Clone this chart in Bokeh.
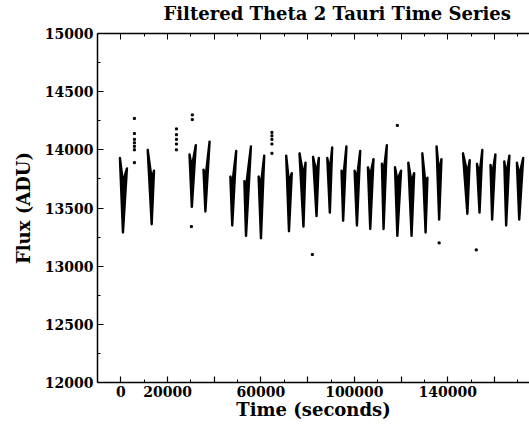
from bokeh.plotting import figure
from bokeh.models import FixedTicker, LinearAxis, Range1d, ColumnDataSource
from bokeh.embed import file_html
from bokeh.resources import INLINE

# Observing segments (each a dense V-shaped streak): start, minimum, end
seg_t_start = [-400, 11500, 29400, 35400, 46900, 52900, 59000, 70800, 76500, 82300,
               88400, 94500, 100100, 105800, 111800, 117400, 123100, 129100, 135200,
               146500, 152500, 158300, 164200, 169600]
seg_t_min = [900, 13200, 30400, 36200, 47700, 53600, 60000, 72000, 78200, 83800,
             89500, 95200, 101100, 106800, 112500, 118400, 124500, 130500, 136300,
             148400, 153600, 159000, 165000, 170600]
seg_t_end = [2600, 14200, 32100, 38000, 49400, 55700, 61400, 73200, 79100, 84800,
             90500, 96600, 102500, 108200, 113900, 120000, 125600, 131300, 137300,
             149400, 154800, 160400, 166400, 172300]
seg_f_start = [13930, 14000, 13960, 13830, 13770, 13730, 13770, 13950, 13970, 13940,
               13930, 13820, 13820, 13850, 13880, 13850, 13890, 13970, 14030,
               13970, 13880, 13870, 13900, 13890]
seg_f_min = [13290, 13360, 13510, 13470, 13350, 13260, 13240, 13300, 13340, 13430,
             13460, 13390, 13350, 13320, 13320, 13260, 13260, 13290, 13400,
             13450, 13460, 13400, 13350, 13400]
seg_f_end = [13840, 13820, 14040, 14070, 13990, 14030, 13950, 13800, 13890, 13930,
             14020, 14030, 13990, 13920, 14040, 13820, 13800, 13760, 13920,
             13910, 14000, 13960, 13950, 13930]
# flux where the two prongs of each streak join
seg_f_notch = [13720, 13750, 13850, 13750, 13700, 13680, 13700, 13720, 13780, 13800,
               13820, 13750, 13750, 13780, 13800, 13740, 13720, 13700, 13800,
               13800, 13790, 13780, 13780, 13780]

# Sparse isolated points
pt_time = [5800, 5800, 5800, 5800, 5800, 5800, 5800,
           23800, 23800, 23800, 23800, 23800,
           30600, 30600, 30200,
           64700, 64700, 64700, 64700, 64700,
           82000, 118400, 136300, 152200]
pt_flux = [14270, 14140, 14090, 14060, 14030, 14000, 13890,
           14180, 14130, 14090, 14050, 14000,
           14300, 14260, 13340,
           14150, 14120, 14090, 14050, 13970,
           13100, 14210, 13200, 13140]

x_major = [0, 20000, 40000, 60000, 80000, 100000, 120000, 140000, 160000]
x_minor = [-10000, 10000, 30000, 50000, 70000, 90000, 110000, 130000, 150000, 170000]
x_labels = {0: "0", 20000: "20000", 40000: "", 60000: "60000", 80000: "",
            100000: "100000", 120000: "", 140000: "140000", 160000: ""}
y_major = [12000, 12500, 13000, 13500, 14000, 14500, 15000]
y_minor = [12250, 12750, 13250, 13750, 14250, 14750]

FONT = "DejaVu Serif"

p = figure(width=529, height=430, output_backend="svg", toolbar_location=None,
           x_range=Range1d(-10000, 175000), y_range=Range1d(12000, 15000),
           x_axis_label="Time (seconds)", y_axis_label="Flux (ADU)",
           title="Filtered Theta 2 Tauri Time Series",
           min_border_left=97, min_border_right=0, min_border_top=32, min_border_bottom=48)
p.grid.visible = False
p.outline_line_color = None
p.background_fill_color = "white"
p.border_fill_color = "white"

p.title.text_font = FONT
p.title.text_font_size = "18px"
p.title.text_font_style = "bold"
p.title.align = "left"
p.title.offset = 66
p.title.standoff = 0
p.title.text_color = "black"

for ax in (p.xaxis[0], p.yaxis[0]):
    ax.major_label_text_font = FONT
    ax.major_label_text_font_size = "14px"
    ax.major_label_text_font_style = "bold"
    ax.major_label_text_color = "black"
    ax.axis_label_text_font = FONT
    ax.axis_label_text_font_size = "18px"
    ax.axis_label_text_font_style = "bold"
    ax.axis_label_text_color = "black"
    ax.axis_line_width = 1.5
    ax.axis_line_color = "black"
    ax.major_tick_in = 6
    ax.major_tick_out = 0
    ax.minor_tick_in = 3
    ax.minor_tick_out = 0
    ax.major_tick_line_width = 1.2
    ax.minor_tick_line_width = 1.0

p.xaxis[0].ticker = FixedTicker(ticks=x_major, minor_ticks=x_minor)
p.xaxis[0].major_label_overrides = x_labels
p.xaxis[0].major_label_standoff = 3
p.xaxis[0].axis_label_standoff = -1
p.yaxis[0].ticker = FixedTicker(ticks=y_major, minor_ticks=y_minor)
p.yaxis[0].major_label_standoff = 4
p.yaxis[0].axis_label_standoff = 8

top = LinearAxis(ticker=FixedTicker(ticks=x_major, minor_ticks=x_minor),
                 major_label_text_font_size="0px", axis_line_width=1.5,
                 major_tick_in=6, major_tick_out=0, minor_tick_in=3, minor_tick_out=0,
                 major_label_standoff=0, axis_label=" ",
                 axis_label_text_font_size="7px", axis_label_standoff=0)
top.major_label_overrides = {t: "" for t in x_major}
p.add_layout(top, "above")

xs = [[a, b, c, b] for a, b, c in zip(seg_t_start, seg_t_min, seg_t_end)]
ys = [[a, b, c, d] for a, b, c, d in zip(seg_f_start, seg_f_min, seg_f_end, seg_f_notch)]
src = ColumnDataSource(dict(xs=xs, ys=ys))
p.patches("xs", "ys", source=src, fill_color="black", line_color="black",
          line_width=2.4, line_join="round")

p.scatter(pt_time, pt_flux, marker="square", size=2, color="black")

open("out.html", "w").write(file_html(p, INLINE))
